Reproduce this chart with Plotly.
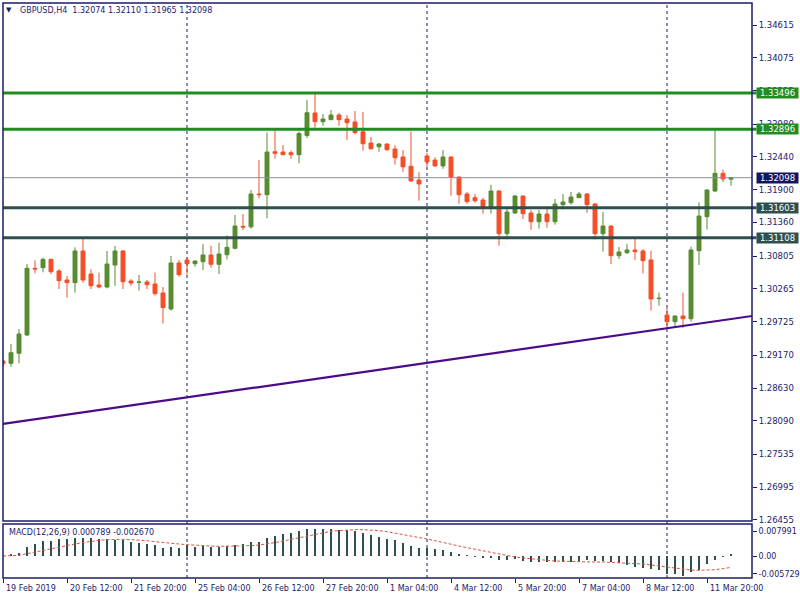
import plotly.graph_objects as go

# ---------------- data ----------------
opens = [1.29076, 1.29038, 1.29203, 1.29505, 1.30604, 1.30614, 1.30752, 1.30560, 1.30411, 1.30367,
         1.30889, 1.30510, 1.30329, 1.30296, 1.30659, 1.30889, 1.30395, 1.30373, 1.30378, 1.30345,
         1.30197, 1.29933, 1.30692, 1.30741, 1.30680, 1.30713, 1.30823, 1.30670, 1.30828, 1.30934,
         1.31296, 1.31288, 1.31829, 1.31817, 1.32526, 1.32521, 1.32510, 1.32477, 1.32793, 1.33164,
         1.33021, 1.33054, 1.33131, 1.33065, 1.33016, 1.32854, 1.32670, 1.32607, 1.32653, 1.32571,
         1.32439, 1.32287, 1.32060, 1.32455, 1.32389, 1.32292, 1.32439, 1.32109, 1.31829, 1.31768,
         1.31730, 1.31620, 1.31878, 1.31175, 1.31516, 1.31796, 1.31516, 1.31372, 1.31499, 1.31372,
         1.31653, 1.31686, 1.31768, 1.31829, 1.31664, 1.31175, 1.31301, 1.30812, 1.30861, 1.30906,
         1.30889, 1.30741, 1.30105, 1.29834, 1.29724, 1.29818, 1.29773, 1.30894, 1.31455, 1.31878,
         1.32170, 1.32074]
highs = [1.29092, 1.29356, 1.29603, 1.30675, 1.30736, 1.30779, 1.30762, 1.30588, 1.30477, 1.30950,
         1.31099, 1.30588, 1.30532, 1.30889, 1.30972, 1.30906, 1.30428, 1.30494, 1.30411, 1.30532,
         1.30296, 1.30807, 1.30741, 1.30785, 1.30733, 1.31005, 1.30977, 1.31026, 1.31148, 1.31483,
         1.31499, 1.31895, 1.32389, 1.32843, 1.32882, 1.32637, 1.32543, 1.32859, 1.33379, 1.33515,
         1.33148, 1.33214, 1.33164, 1.33131, 1.33197, 1.33181, 1.32769, 1.32670, 1.32661, 1.32632,
         1.32554, 1.32859, 1.32192, 1.32510, 1.32434, 1.32554, 1.32447, 1.32118, 1.31862, 1.31829,
         1.31768, 1.31982, 1.31895, 1.31615, 1.31812, 1.31804, 1.31565, 1.31565, 1.31631, 1.31747,
         1.31829, 1.31862, 1.31862, 1.31845, 1.31681, 1.31532, 1.31310, 1.30955, 1.31005, 1.31099,
         1.30922, 1.30894, 1.30202, 1.29950, 1.29826, 1.30202, 1.30960, 1.31692, 1.31911, 1.32900,
         1.32230, 1.32110]
lows = [1.28972, 1.28982, 1.29038, 1.29488, 1.30522, 1.30538, 1.30510, 1.30263, 1.30120, 1.30202,
        1.30367, 1.30263, 1.30274, 1.30274, 1.30317, 1.30263, 1.30317, 1.30235, 1.30263, 1.30153,
        1.29694, 1.29905, 1.30466, 1.30499, 1.30631, 1.30576, 1.30614, 1.30510, 1.30752, 1.30917,
        1.31235, 1.31257, 1.31758, 1.31428, 1.32411, 1.32472, 1.32411, 1.32335, 1.32750, 1.32922,
        1.32955, 1.33049, 1.32955, 1.32719, 1.32810, 1.32543, 1.32559, 1.32526, 1.32543, 1.32312,
        1.32193, 1.32028, 1.31718, 1.32276, 1.32279, 1.32243, 1.31801, 1.31669, 1.31669, 1.31686,
        1.31504, 1.31504, 1.30977, 1.31082, 1.31499, 1.31417, 1.31240, 1.31257, 1.31273, 1.31323,
        1.31570, 1.31653, 1.31763, 1.31521, 1.31076, 1.30878, 1.30675, 1.30757, 1.30840, 1.30741,
        1.30522, 1.29905, 1.29988, 1.29612, 1.29641, 1.29620, 1.29724, 1.30659, 1.31244, 1.31862,
        1.32027, 1.31965]
closes = [1.29031, 1.29213, 1.29521, 1.30604, 1.30593, 1.30752, 1.30548, 1.30400, 1.30367, 1.30889,
          1.30411, 1.30317, 1.30296, 1.30675, 1.30889, 1.30383, 1.30362, 1.30378, 1.30334, 1.30186,
          1.29955, 1.30692, 1.30499, 1.30680, 1.30724, 1.30823, 1.30670, 1.30840, 1.30950, 1.31301,
          1.31285, 1.31829, 1.31819, 1.32521, 1.32500, 1.32477, 1.32477, 1.32826, 1.33169, 1.33021,
          1.33065, 1.33131, 1.33054, 1.33004, 1.32843, 1.32658, 1.32576, 1.32653, 1.32559, 1.32427,
          1.32276, 1.32045, 1.31995, 1.32358, 1.32292, 1.32439, 1.32109, 1.31817, 1.31702, 1.31718,
          1.31620, 1.31878, 1.31175, 1.31532, 1.31796, 1.31504, 1.31372, 1.31499, 1.31372, 1.31664,
          1.31697, 1.31779, 1.31829, 1.31653, 1.31175, 1.31301, 1.30812, 1.30873, 1.30906, 1.30878,
          1.30729, 1.30098, 1.30110, 1.29724, 1.29818, 1.29773, 1.30906, 1.31466, 1.31895, 1.32170,
          1.32076, 1.32098]

macd_main = [0.00032, 0.00054, 0.00086, 0.00278, 0.00375, 0.00482, 0.00492, 0.00535, 0.00546, 0.00589,
             0.00567, 0.00567, 0.00535, 0.00535, 0.00514, 0.00503, 0.00460, 0.00428, 0.00385, 0.00353,
             0.00268, 0.00289, 0.00268, 0.00342, 0.00300, 0.00321, 0.00289, 0.00300, 0.00321, 0.00353,
             0.00375, 0.00460, 0.00460, 0.00567, 0.00642, 0.00706, 0.00728, 0.00803, 0.00856, 0.00867,
             0.00856, 0.00856, 0.00835, 0.00824, 0.00803, 0.00749, 0.00674, 0.00621, 0.00546, 0.00514,
             0.00407, 0.00321, 0.00268, 0.00246, 0.00214, 0.00182, 0.00139, 0.00075, 0.00011, -0.00011,
             -0.00054, -0.00043, -0.00128, -0.00128, -0.00107, -0.00171, -0.00193, -0.00203, -0.00193, -0.00182,
             -0.00182, -0.00182, -0.00150, -0.00139, -0.00150, -0.00161, -0.00193, -0.00214, -0.00289, -0.00342,
             -0.00396, -0.00428, -0.00449, -0.00589, -0.00589, -0.00631, -0.00524, -0.00449, -0.00268, -0.00128,
             -0.00011, 0.000789]
macd_signal = [0.00000, 0.00011, 0.00021, 0.00075, 0.00128, 0.00193, 0.00246, 0.00300, 0.00342, 0.00385,
               0.00428, 0.00471, 0.00503, 0.00524, 0.00535, 0.00535, 0.00524, 0.00514, 0.00492, 0.00460,
               0.00428, 0.00407, 0.00385, 0.00364, 0.00342, 0.00332, 0.00321, 0.00310, 0.00310, 0.00310,
               0.00321, 0.00332, 0.00353, 0.00385, 0.00428, 0.00482, 0.00535, 0.00599, 0.00653, 0.00706,
               0.00749, 0.00792, 0.00813, 0.00835, 0.00845, 0.00845, 0.00835, 0.00813, 0.00781, 0.00738,
               0.00696, 0.00653, 0.00599, 0.00546, 0.00492, 0.00428, 0.00375, 0.00321, 0.00268, 0.00214,
               0.00161, 0.00107, 0.00064, 0.00011, -0.00032, -0.00064, -0.00096, -0.00118, -0.00139, -0.00161,
               -0.00171, -0.00182, -0.00182, -0.00193, -0.00193, -0.00193, -0.00203, -0.00203, -0.00214, -0.00235,
               -0.00257, -0.00289, -0.00321, -0.00364, -0.00396, -0.00428, -0.00449, -0.00460, -0.00460, -0.00439,
               -0.00407, -0.00364]

time_label_bars = [0, 8, 16, 24, 32, 40, 48, 56, 64, 72, 80, 88]
time_labels = ["19 Feb 2019", "20 Feb 12:00", "21 Feb 20:00", "25 Feb 04:00", "26 Feb 12:00",
               "27 Feb 20:00", "1 Mar 04:00", "4 Mar 12:00", "5 Mar 20:00", "7 Mar 04:00",
               "8 Mar 12:00", "11 Mar 20:00"]
week_separator_bars = [23, 53, 83]

price_ticks = [1.34615, 1.34075, 1.33535, 1.32980, 1.32440, 1.31900, 1.31360, 1.30805,
               1.30265, 1.29725, 1.29170, 1.28630, 1.28090, 1.27535, 1.26995, 1.26455]
macd_ticks = [0.007991, 0.0, -0.005729]
macd_tick_text = ["0.007991", "0.00", "-0.005729"]

green_levels = [1.33496, 1.32896]
slate_levels = [1.31603, 1.31108]
bid_price = 1.32098
trend_x = [0, 94]
trend_y = [1.28038, 1.29825]

title_text = "GBPUSD,H4\u00a0\u00a01.32074 1.32110 1.31965 1.32098"
macd_text = "MACD(12,26,9) 0.000789 -0.002670"

# ---------------- styling ----------------
NAVY = "#1b1b6b"
GREEN_C = "#578b2f"
RED_C = "#f44e27"
LEVEL_GREEN = "#228b22"
SLATE = "#2f4f4f"
PURPLE = "#4b0a8a"
BID_BOX = "#14145e"
FONT = "DejaVu Sans"

idx = list(range(len(opens)))
x_range = [0, 93.625]
main_dom = [0.09913, 1.0]
macd_dom = [0.0, 0.09391]

fig = go.Figure()

fig.add_trace(go.Candlestick(
    x=idx, open=opens, high=highs, low=lows, close=closes,
    increasing=dict(line=dict(color=GREEN_C, width=1), fillcolor=GREEN_C),
    decreasing=dict(line=dict(color=RED_C, width=1), fillcolor=RED_C),
    whiskerwidth=0, xaxis="x", yaxis="y", hoverinfo="skip", showlegend=False))

fig.add_trace(go.Scatter(x=trend_x, y=trend_y, mode="lines",
                         line=dict(color=PURPLE, width=2.2),
                         xaxis="x", yaxis="y", hoverinfo="skip", showlegend=False))

fig.add_trace(go.Bar(x=idx, y=macd_main, width=0.14, marker=dict(color=SLATE, line=dict(width=0)),
                     xaxis="x2", yaxis="y2", hoverinfo="skip", showlegend=False))
fig.add_trace(go.Scatter(x=idx, y=macd_signal, mode="lines",
                         line=dict(color="#e0523f", width=1, dash="3px,2px"),
                         xaxis="x2", yaxis="y2", hoverinfo="skip", showlegend=False))

shapes = []
for b in week_separator_bars:
    shapes.append(dict(type="line", xref="x", yref="paper", x0=b, x1=b, y0=0, y1=1,
                       line=dict(color=NAVY, width=1, dash="3px,3px"), layer="below"))
shapes.append(dict(type="line", xref="paper", yref="y", x0=0, x1=1, y0=bid_price, y1=bid_price,
                   line=dict(color="#8a9099", width=1)))
for lv in green_levels:
    shapes.append(dict(type="line", xref="paper", yref="y", x0=0, x1=1.006, y0=lv, y1=lv,
                       line=dict(color=LEVEL_GREEN, width=3)))
for lv in slate_levels:
    shapes.append(dict(type="line", xref="paper", yref="y", x0=0, x1=1.006, y0=lv, y1=lv,
                       line=dict(color=SLATE, width=3)))
shapes.append(dict(type="rect", xref="paper", yref="paper", x0=0, x1=1, y0=main_dom[0], y1=main_dom[1],
                   line=dict(color=NAVY, width=1.5)))
shapes.append(dict(type="rect", xref="paper", yref="paper", x0=0, x1=1, y0=macd_dom[0], y1=macd_dom[1],
                   line=dict(color=NAVY, width=1.5)))

annotations = []
def level_box(value, color):
    return dict(xref="paper", yref="y", x=1, y=value, xanchor="left", yanchor="middle",
                xshift=4, text=f"{value:.5f}", showarrow=False, bgcolor=color,
                font=dict(family=FONT, size=8.5, color="white"), width=41, height=10, borderpad=0)
for lv in green_levels:
    annotations.append(level_box(lv, LEVEL_GREEN))
for lv in slate_levels:
    annotations.append(level_box(lv, SLATE))
annotations.append(level_box(bid_price, BID_BOX))
for b, t in zip(time_label_bars, time_labels):
    annotations.append(dict(xref="x2", yref="paper", x=b, y=-0.0191, xanchor="left", yanchor="middle",
                            xshift=1, text=t, showarrow=False, font=dict(family=FONT, size=8, color=NAVY)))
annotations.append(dict(xref="paper", yref="paper", x=0.008, y=0.9878, xanchor="center", yanchor="middle",
                        text="\u25bc", showarrow=False, font=dict(family=FONT, size=7, color=NAVY)))
annotations.append(dict(xref="paper", yref="paper", x=0.0200, y=0.9878, xanchor="left", yanchor="middle",
                        text=title_text, showarrow=False, font=dict(family=FONT, size=8, color=NAVY)))
annotations.append(dict(xref="paper", yref="paper", x=0.0053, y=0.0783, xanchor="left", yanchor="middle",
                        text=macd_text, showarrow=False, font=dict(family=FONT, size=8, color=NAVY)))

fig.update_layout(
    width=800, height=600,
    margin=dict(l=3, r=48, t=3, b=22, autoexpand=False),
    paper_bgcolor="white", plot_bgcolor="white",
    showlegend=False, bargap=0,
    font=dict(family=FONT, size=8, color=NAVY),
    xaxis=dict(domain=[0, 1], range=x_range, anchor="y", showticklabels=False, ticks="",
               showgrid=False, zeroline=False, showline=False, rangeslider=dict(visible=False),
               automargin=False),
    xaxis2=dict(domain=[0, 1], range=x_range, anchor="y2", matches="x", tickmode="array",
                tickvals=time_label_bars, ticks="outside", ticklen=4, tickcolor=NAVY,
                showticklabels=False, showgrid=False, zeroline=False, showline=False, automargin=False),
    yaxis=dict(domain=main_dom, range=[1.26438, 1.34978], side="right", anchor="x",
               tickmode="array", tickvals=price_ticks, ticktext=[f"{v:.5f}" for v in price_ticks],
               ticks="outside", ticklen=4, tickcolor=NAVY, showgrid=False, zeroline=False,
               showline=False, tickfont=dict(family=FONT, size=8.5, color=NAVY), automargin=False),
    yaxis2=dict(domain=macd_dom, range=[-0.00706, 0.01027], side="right", anchor="x2",
                tickmode="array", tickvals=macd_ticks, ticktext=macd_tick_text,
                ticks="outside", ticklen=4, tickcolor=NAVY, showgrid=False, zeroline=False,
                showline=False, tickfont=dict(family=FONT, size=8, color=NAVY), automargin=False),
    shapes=shapes,
    annotations=annotations,
)

fig.write_html("out.html", config={"displayModeBar": False},
               post_script="document.body.style.margin='0px';document.body.style.overflow='hidden';")
